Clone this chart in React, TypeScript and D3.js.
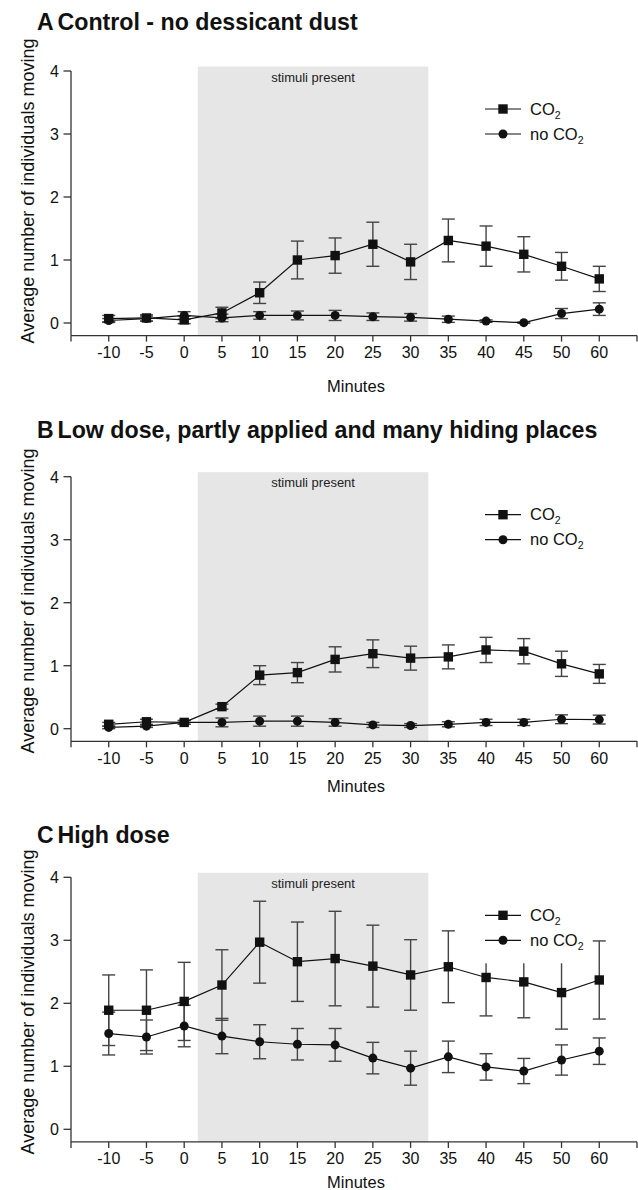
import * as d3 from "d3"

const MINUTES = ["-10", "-5", "0", "5", "10", "15", "20", "25", "30", "35", "40", "45", "50", "60"]
const Y_TICKS = [0, 1, 2, 3, 4]
// stimulus window, in tick-index units
const STIM_START = 2.36
const STIM_END = 8.47

const A_CO2 = [0.07, 0.08, 0.05, 0.16, 0.48, 1.0, 1.07, 1.25, 0.97, 1.31, 1.22, 1.09, 0.9, 0.7]
const A_CO2_SEM = [0.05, 0.05, 0.06, 0.09, 0.17, 0.3, 0.28, 0.35, 0.28, 0.34, 0.32, 0.28, 0.22, 0.2]
const A_NO = [0.04, 0.07, 0.12, 0.08, 0.12, 0.12, 0.12, 0.1, 0.09, 0.06, 0.03, 0.005, 0.15, 0.22]
const A_NO_SEM = [0.03, 0.04, 0.06, 0.06, 0.06, 0.07, 0.08, 0.06, 0.06, 0.05, 0.02, 0.01, 0.08, 0.1]

const B_CO2 = [0.07, 0.11, 0.1, 0.35, 0.85, 0.89, 1.1, 1.19, 1.12, 1.14, 1.25, 1.23, 1.03, 0.87]
const B_CO2_SEM = [0.03, 0.04, 0.03, 0.04, 0.15, 0.16, 0.2, 0.22, 0.19, 0.19, 0.2, 0.2, 0.2, 0.15]
const B_NO = [0.02, 0.04, 0.1, 0.1, 0.12, 0.12, 0.1, 0.06, 0.05, 0.07, 0.1, 0.1, 0.15, 0.145]
const B_NO_SEM = [0.02, 0.02, 0.03, 0.07, 0.08, 0.08, 0.06, 0.04, 0.03, 0.04, 0.05, 0.05, 0.07, 0.07]

const C_CO2 = [1.89, 1.89, 2.03, 2.29, 2.97, 2.66, 2.71, 2.59, 2.45, 2.58, 2.41, 2.34, 2.17, 2.37]
const C_CO2_SEM = [0.56, 0.64, 0.62, 0.56, 0.65, 0.63, 0.75, 0.65, 0.56, 0.57, 0.61, 0.57, 0.58, 0.62]
const C_NO = [1.52, 1.465, 1.64, 1.48, 1.39, 1.35, 1.34, 1.13, 0.97, 1.15, 0.99, 0.925, 1.1, 1.24]
const C_NO_SEM = [0.34, 0.27, 0.33, 0.28, 0.27, 0.25, 0.26, 0.25, 0.27, 0.25, 0.21, 0.2, 0.24, 0.21]

const W = 638
const H = 1190
const FONT = "'Liberation Sans', Arial, Helvetica, sans-serif"
const AXIS_X0 = 71
const AXIS_X1 = 637
const PLOT_H = 264.6
const ERR_COLOR = "#444"

interface PanelProps {
  letter: string
  title: string
  co2: number[]
  co2Sem: number[]
  noCo2: number[]
  noCo2Sem: number[]
  top: number
  titleY: number
  yLabelY: number
  minutesY: number
}

const x = d3.scaleLinear().domain([-1, 14]).range([AXIS_X0, AXIS_X1])

function Co2Label({ x0, y0, prefix }: { x0: number; y0: number; prefix: string }) {
  return (
    <text x={x0} y={y0} fontSize={16.5} fontFamily={FONT} fill="#111">
      {prefix}CO
      <tspan fontSize={10.5} dy={4}>2</tspan>
    </text>
  )
}

function Panel(p: PanelProps) {
  const y = d3.scaleLinear().domain([-0.2, 4]).range([p.top + PLOT_H, p.top])
  const axisY = y(-0.2)
  const line = d3
    .line<number>()
    .x((_, i) => x(i))
    .y((d) => y(d))

  const errBars = (vals: number[], sem: number[], key: string) =>
    vals.map((v, i) => {
      const cx = x(i)
      const hi = y(v + sem[i])
      const lo = y(v - sem[i])
      return (
        <g key={key + i} stroke={ERR_COLOR} strokeWidth={1.4}>
          <line x1={cx} x2={cx} y1={hi} y2={lo} />
          <line x1={cx - 6.5} x2={cx + 6.5} y1={hi} y2={hi} />
          <line x1={cx - 6.5} x2={cx + 6.5} y1={lo} y2={lo} />
        </g>
      )
    })

  const legX0 = 485
  const legX1 = 521
  const legRow1 = p.top + 38
  const legRow2 = p.top + 63

  return (
    <g>
      {/* title */}
      <text x={37} y={p.titleY} fontFamily={FONT} fontWeight="bold" fontSize={23} fill="#111">
        {p.letter}
      </text>
      <text x={57.5} y={p.titleY} fontFamily={FONT} fontWeight="bold" fontSize={23.2} fill="#111">
        {p.title}
      </text>

      {/* stimulus shading */}
      <rect
        x={x(STIM_START)}
        y={p.top - 4.5}
        width={x(STIM_END) - x(STIM_START)}
        height={axisY - (p.top - 4.5)}
        fill="#e6e6e6"
      />
      <text
        x={(x(STIM_START) + x(STIM_END)) / 2}
        y={p.top + 10.5}
        textAnchor="middle"
        fontFamily={FONT}
        fontSize={13}
        fill="#222"
      >
        stimuli present
      </text>

      {/* error bars */}
      {errBars(p.co2, p.co2Sem, "ec")}
      {errBars(p.noCo2, p.noCo2Sem, "en")}

      {/* lines */}
      <path d={line(p.noCo2) ?? ""} fill="none" stroke="#111" strokeWidth={1.2} />
      <path d={line(p.co2) ?? ""} fill="none" stroke="#111" strokeWidth={1.2} />

      {/* markers */}
      {p.noCo2.map((v, i) => (
        <circle key={"c" + i} cx={x(i)} cy={y(v)} r={4.5} fill="#111" />
      ))}
      {p.co2.map((v, i) => (
        <rect key={"s" + i} x={x(i) - 4.7} y={y(v) - 4.7} width={9.4} height={9.4} fill="#111" />
      ))}

      {/* legend */}
      <rect x={478} y={p.top + 20} width={104} height={66} fill="#fff" />
      <line x1={legX0} x2={legX1} y1={legRow1} y2={legRow1} stroke="#111" strokeWidth={1.2} />
      <rect x={(legX0 + legX1) / 2 - 4.7} y={legRow1 - 4.7} width={9.4} height={9.4} fill="#111" />
      <Co2Label x0={530} y0={legRow1 + 5.5} prefix="" />
      <line x1={legX0} x2={legX1} y1={legRow2} y2={legRow2} stroke="#111" strokeWidth={1.2} />
      <circle cx={(legX0 + legX1) / 2} cy={legRow2} r={4.5} fill="#111" />
      <Co2Label x0={530} y0={legRow2 + 5.5} prefix="no " />

      {/* y axis */}
      <line x1={AXIS_X0} x2={AXIS_X0} y1={y(4)} y2={axisY} stroke="#333" strokeWidth={1.3} />
      {Y_TICKS.map((t) => (
        <g key={"yt" + t}>
          <line x1={AXIS_X0 - 7.5} x2={AXIS_X0} y1={y(t)} y2={y(t)} stroke="#333" strokeWidth={1.3} />
          <text
            x={AXIS_X0 - 12}
            y={y(t) + 6}
            textAnchor="end"
            fontFamily={FONT}
            fontSize={16}
            fill="#111"
          >
            {t}
          </text>
        </g>
      ))}

      {/* x axis */}
      <line x1={AXIS_X0} x2={AXIS_X1} y1={axisY} y2={axisY} stroke="#333" strokeWidth={1.3} />
      {[-1, 14].map((t) => (
        <line key={"xe" + t} x1={x(t)} x2={x(t)} y1={axisY} y2={axisY + 6} stroke="#333" strokeWidth={1.3} />
      ))}
      {MINUTES.map((m, i) => (
        <g key={"xt" + m}>
          <line x1={x(i)} x2={x(i)} y1={axisY} y2={axisY + 6} stroke="#333" strokeWidth={1.3} />
          <text
            x={x(i)}
            y={axisY + 22.5}
            textAnchor="middle"
            fontFamily={FONT}
            fontSize={16}
            fill="#111"
          >
            {m}
          </text>
        </g>
      ))}

      <text
        x={356}
        y={p.minutesY + 6}
        textAnchor="middle"
        fontFamily={FONT}
        fontSize={16.5}
        fill="#111"
      >
        Minutes
      </text>
      <text
        transform={`translate(28,${p.yLabelY}) rotate(-90)`}
        textAnchor="middle"
        dominantBaseline="central"
        fontFamily={FONT}
        fontSize={18}
        fill="#111"
      >
        Average number of individuals moving
      </text>
    </g>
  )
}

export default function App() {
  return (
    <svg
      width={W}
      height={H}
      viewBox={`0 0 ${W} ${H}`}
      style={{ position: "absolute", left: 0, top: 0, background: "#fff" }}
    >
      <rect width={W} height={H} fill="#fff" />
      <Panel
        letter="A"
        title="Control - no dessicant dust"
        co2={A_CO2}
        co2Sem={A_CO2_SEM}
        noCo2={A_NO}
        noCo2Sem={A_NO_SEM}
        top={71}
        titleY={29.5}
        yLabelY={191}
        minutesY={386}
      />
      <Panel
        letter="B"
        title="Low dose, partly applied and many hiding places"
        co2={B_CO2}
        co2Sem={B_CO2_SEM}
        noCo2={B_NO}
        noCo2Sem={B_NO_SEM}
        top={476.7}
        titleY={438.3}
        yLabelY={601}
        minutesY={786}
      />
      <Panel
        letter="C"
        title="High dose"
        co2={C_CO2}
        co2Sem={C_CO2_SEM}
        noCo2={C_NO}
        noCo2Sem={C_NO_SEM}
        top={877.3}
        titleY={842.7}
        yLabelY={1002}
        minutesY={1182}
      />
    </svg>
  )
}
